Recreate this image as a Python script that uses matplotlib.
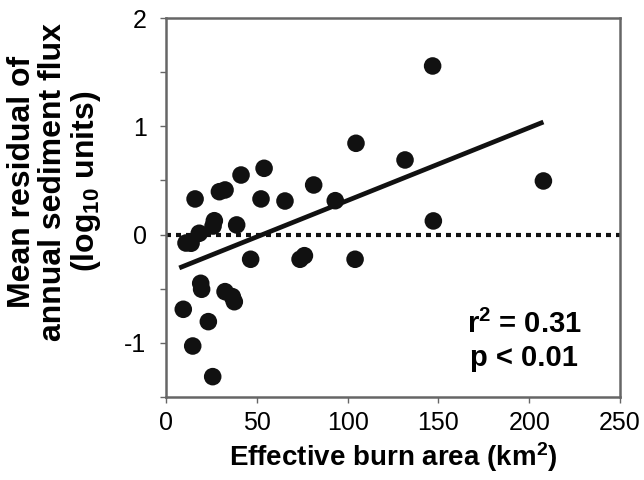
import matplotlib
matplotlib.use('Agg')
import matplotlib.pyplot as plt
import numpy as np

# burn area (km2) and mean residual (log10 units)
burn_area = [146.8, 104.6, 131.6, 207.8, 147.2, 54.0, 41.3, 29.4, 32.5, 81.3,
             52.3, 65.5, 93.2, 16.0, 26.6, 25.9, 38.9, 18.3, 11.0, 13.8,
             46.6, 73.8, 76.2, 104.1, 19.1, 19.6, 32.5, 36.5, 37.6, 9.5,
             23.3, 14.7, 25.7]
residual = [1.557, 0.843, 0.689, 0.495, 0.126, 0.612, 0.550, 0.396, 0.412, 0.458,
            0.329, 0.310, 0.313, 0.329, 0.128, 0.079, 0.089, 0.012, -0.078, -0.080,
            -0.228, -0.228, -0.195, -0.228, -0.450, -0.505, -0.527, -0.573, -0.620, -0.690,
            -0.804, -1.029, -1.312]

# regression line
fit_range = [7.3, 207.8]
slope = 0.00672
intercept = -0.357

x_ticks = [0, 50, 100, 150, 200, 250]
y_ticks = [-1.5, -1, -0.5, 0, 0.5, 1, 1.5, 2]
y_labels = ['', '-1', '', '0', '', '1', '', '2']

plt.rcParams['font.family'] = ['Liberation Sans', 'DejaVu Sans']
plt.rcParams['mathtext.fontset'] = 'custom'
plt.rcParams['mathtext.rm'] = 'Liberation Sans'
plt.rcParams['mathtext.bf'] = 'Liberation Sans:bold'
plt.rcParams['mathtext.default'] = 'bf'

fig = plt.figure(figsize=(6.44, 4.8), dpi=100)
ax = fig.add_axes([0.2578, 0.1729, 0.705, 0.7896])

ax.axhline(0, color='#111111', linewidth=3, linestyle=(0, (1.2, 1.2)), zorder=1)
fx = np.array(fit_range)
ax.plot(fx, intercept + slope * fx, color='#111111', linewidth=3.4, solid_capstyle='butt', zorder=2)
ax.scatter(burn_area, residual, s=160, color='#111111', edgecolors='none', zorder=3)

ax.set_xlim(0, 250)
ax.set_ylim(-1.5, 2)
ax.set_xticks(x_ticks)
ax.set_yticks(y_ticks)
ax.set_yticklabels(y_labels)
ax.tick_params(labelsize=18, length=4, width=1, color='#666666')
ax.tick_params(axis='y', pad=10)
ax.tick_params(axis='x', pad=6)
for sp in ax.spines.values():
    sp.set_color('#666666')
    sp.set_linewidth(1.8)

ax.set_xlabel('Effective burn area (km$^{2}$)', fontsize=20, fontweight='bold', labelpad=4)
fig.text(55 / 644, 0.621, 'Mean residual of\nannual sediment flux\n(log$_{10}$ units)',
         rotation=90, ha='center', va='center', multialignment='center',
         fontsize=23, fontweight='bold', linespacing=1.05)

ax.text(0.789, 0.148, 'r$^{2}$ = 0.31\np < 0.01', transform=ax.transAxes, ha='center', va='center',
        fontsize=21, fontweight='bold', linespacing=1.25)

plt.savefig('out.png', dpi=100)
plt.close()
